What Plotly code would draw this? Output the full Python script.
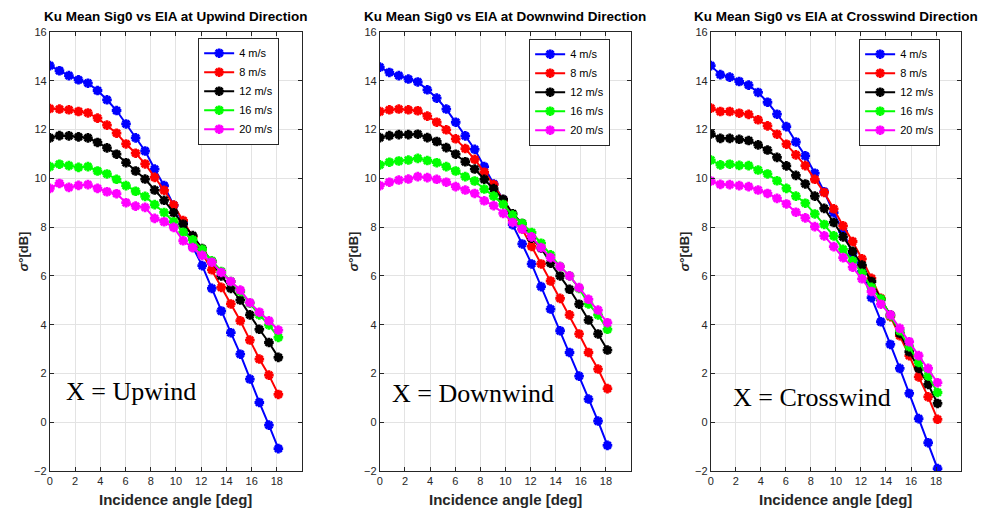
import plotly.graph_objects as go

# Incidence angles [deg]
angles = [0.0, 0.76, 1.51, 2.27, 3.02, 3.78, 4.53, 5.29, 6.04, 6.8, 7.55, 8.31,
          9.06, 9.82, 10.57, 11.33, 12.08, 12.84, 13.59, 14.35, 15.1, 15.86,
          16.61, 17.37, 18.12]

speeds = ["4 m/s", "8 m/s", "12 m/s", "16 m/s", "20 m/s"]
colors = ["#0000ff", "#ff0000", "#000000", "#00ff00", "#ff00ff"]

# Upwind
up_4 = [14.62, 14.41, 14.21, 14.04, 13.90, 13.60, 13.22, 12.78, 12.23, 11.66, 11.12, 10.38,
        9.70, 8.89, 8.15, 7.19, 6.42, 5.49, 4.56, 3.67, 2.79, 1.77, 0.81, -0.12, -1.08]
up_8 = [12.86, 12.84, 12.81, 12.74, 12.68, 12.47, 12.18, 11.85, 11.41, 11.03, 10.59, 10.04,
        9.51, 8.90, 8.27, 7.60, 6.93, 6.25, 5.53, 4.85, 4.16, 3.37, 2.59, 1.93, 1.14]
up_12 = [11.66, 11.75, 11.74, 11.70, 11.66, 11.47, 11.25, 10.99, 10.64, 10.30, 9.97, 9.52,
         9.10, 8.59, 8.12, 7.65, 7.12, 6.59, 6.00, 5.49, 5.01, 4.40, 3.81, 3.27, 2.66]
up_16 = [10.48, 10.58, 10.52, 10.45, 10.48, 10.30, 10.18, 9.96, 9.70, 9.47, 9.26, 8.92,
         8.60, 8.22, 7.79, 7.48, 7.09, 6.62, 6.18, 5.77, 5.36, 4.88, 4.40, 3.99, 3.48]
up_20 = [9.59, 9.79, 9.63, 9.71, 9.74, 9.59, 9.45, 9.37, 9.00, 8.86, 8.81, 8.36,
         8.22, 7.99, 7.44, 7.16, 6.84, 6.56, 6.14, 5.77, 5.42, 4.90, 4.51, 4.16, 3.78]

# Downwind
dn_4 = [14.56, 14.34, 14.21, 14.07, 13.95, 13.63, 13.29, 12.84, 12.30, 11.74, 11.19, 10.48,
        9.77, 9.12, 8.10, 7.31, 6.49, 5.56, 4.64, 3.75, 2.86, 1.89, 0.95, 0.05, -0.95]
dn_8 = [12.74, 12.81, 12.84, 12.81, 12.77, 12.55, 12.30, 11.99, 11.62, 11.22, 10.78, 10.25,
        9.74, 9.10, 8.30, 7.92, 7.21, 6.49, 5.79, 5.08, 4.40, 3.62, 2.86, 2.18, 1.38]
dn_12 = [11.67, 11.75, 11.79, 11.79, 11.81, 11.67, 11.51, 11.26, 10.99, 10.68, 10.38, 9.96,
         9.58, 9.14, 8.55, 8.15, 7.55, 7.14, 6.52, 6.00, 5.45, 4.84, 4.19, 3.62, 2.96]
dn_16 = [10.55, 10.66, 10.71, 10.75, 10.82, 10.73, 10.64, 10.48, 10.30, 10.07, 9.89, 9.56,
         9.27, 8.93, 8.49, 8.15, 7.78, 7.34, 6.86, 6.38, 6.00, 5.49, 4.85, 4.40, 3.81]
dn_20 = [9.70, 9.84, 9.93, 9.97, 10.07, 10.03, 9.96, 9.84, 9.66, 9.52, 9.38, 9.08,
         8.88, 8.56, 8.19, 7.92, 7.60, 7.16, 6.75, 6.38, 6.00, 5.52, 5.04, 4.60, 4.08]

# Crosswind
cr_4 = [14.62, 14.25, 14.15, 13.97, 13.82, 13.52, 13.12, 12.63, 12.12, 11.49, 10.92, 10.21,
        9.45, 8.59, 7.82, 6.93, 6.18, 5.11, 4.12, 3.19, 2.21, 1.18, 0.15, -0.84, -1.90]
cr_8 = [12.88, 12.74, 12.74, 12.67, 12.62, 12.40, 12.15, 11.81, 11.40, 10.96, 10.52, 9.96,
        9.42, 8.75, 8.05, 7.41, 6.70, 5.90, 5.08, 4.33, 3.55, 2.73, 1.86, 1.04, 0.12]
cr_12 = [11.82, 11.64, 11.64, 11.60, 11.55, 11.37, 11.16, 10.86, 10.51, 10.12, 9.77, 9.27,
         8.77, 8.19, 7.60, 7.01, 6.44, 5.77, 5.04, 4.40, 3.64, 2.89, 2.21, 1.55, 0.77]
cr_16 = [10.75, 10.55, 10.58, 10.53, 10.52, 10.34, 10.18, 9.90, 9.59, 9.27, 8.98, 8.54,
         8.11, 7.64, 7.09, 6.62, 6.11, 5.53, 5.05, 4.37, 3.75, 3.10, 2.45, 1.90, 1.22]
cr_20 = [9.89, 9.75, 9.74, 9.70, 9.66, 9.52, 9.38, 9.18, 8.95, 8.61, 8.38, 8.02,
         7.64, 7.20, 6.75, 6.36, 5.88, 5.36, 4.84, 4.40, 3.85, 3.30, 2.73, 2.21, 1.62]

panels = [
    ("Ku Mean Sig0 vs EIA at Upwind Direction", "X = Upwind", [up_4, up_8, up_12, up_16, up_20]),
    ("Ku Mean Sig0 vs EIA at Downwind Direction", "X = Downwind", [dn_4, dn_8, dn_12, dn_16, dn_20]),
    ("Ku Mean Sig0 vs EIA at Crosswind Direction", "X = Crosswind", [cr_4, cr_8, cr_12, cr_16, cr_20]),
]

x_ticks = [0, 2, 4, 6, 8, 10, 12, 14, 16, 18]
y_ticks = [-2, 0, 2, 4, 6, 8, 10, 12, 14, 16]

W, H = 982, 509


def ypaper(px):
    # compensate the observed vertical compression around the centre
    adj = 254.5 + (px - 254.5) / 0.975
    return 1 - adj / H


domains_px = [(47, 300), (378, 630), (710, 961)]
legend_px = [(277, 38), (609, 39), (940, 39)]
label_px = [(61, 391), (388, 393), (730, 397)]
y_top, y_bot = 32.3, 470.7
ydom = [ypaper(y_bot), ypaper(y_top)]

fig = go.Figure()
layout = dict(
    width=W, height=H,
    margin=dict(l=0, r=0, t=0, b=0),
    paper_bgcolor="white", plot_bgcolor="white",
    showlegend=True,
    annotations=[],
)

tickfont = dict(family="Liberation Sans, Arial", size=11, color="#262626")
for p, (title, label, series) in enumerate(panels):
    idx = "" if p == 0 else str(p + 1)
    leg = "legend" + idx
    for s, vals in enumerate(series):
        fig.add_trace(go.Scatter(
            x=angles, y=vals, mode="lines+markers", name=speeds[s],
            line=dict(color=colors[s], width=2),
            marker=dict(symbol="asterisk-open", size=8, color=colors[s],
                        line=dict(color=colors[s], width=2.8)),
            xaxis="x" + idx, yaxis="y" + idx, legend=leg,
        ))
    x0, x1 = domains_px[p]
    axcommon = dict(showline=True, linecolor="#262626", linewidth=1, mirror="ticks",
                    ticks="inside", ticklen=4, tickcolor="#262626",
                    showgrid=True, gridcolor="#e3e3e3", gridwidth=1, zeroline=False,
                    tickfont=tickfont)
    layout["xaxis" + idx] = dict(domain=[x0 / W, x1 / W], range=[0, 20], tickvals=x_ticks,
                                 anchor="y" + idx, **axcommon)
    layout["yaxis" + idx] = dict(domain=ydom, range=[-2, 16], tickvals=y_ticks,
                                 anchor="x" + idx, **axcommon)
    lx, ly = legend_px[p]
    layout[leg] = dict(x=lx / W, y=ypaper(ly), xanchor="right", yanchor="top",
                       xref="paper", yref="paper",
                       bgcolor="white", bordercolor="#262626", borderwidth=1,
                       font=dict(family="Liberation Sans, Arial", size=11, color="#000000"),
                       tracegroupgap=0, itemwidth=30)
    cx = (x0 + x1) / 2
    layout["annotations"].append(dict(
        text="<b>" + title + "</b>", x=cx / W, y=ypaper(17), xref="paper", yref="paper",
        showarrow=False, xanchor="center", yanchor="middle", borderpad=0,
        font=dict(family="Liberation Sans, Arial", size=13.5, color="#000000")))
    layout["annotations"].append(dict(
        text="<b>Incidence angle [deg]</b>", x=cx / W, y=ypaper(499), xref="paper", yref="paper",
        showarrow=False, xanchor="center", yanchor="middle",
        font=dict(family="Liberation Sans, Arial", size=15, color="#262626")))
    layout["annotations"].append(dict(
        text="<b><i>σ</i>°[dB]</b>", x=(x0 - 26) / W, y=(ydom[0] + ydom[1]) / 2,
        xref="paper", yref="paper", textangle=-90,
        showarrow=False, xanchor="center", yanchor="middle",
        font=dict(family="Liberation Sans, Arial", size=13, color="#262626")))
    tx, ty = label_px[p]
    layout["annotations"].append(dict(
        text=label, x=tx / W, y=ypaper(ty), xref="paper", yref="paper",
        showarrow=False, xanchor="left", yanchor="middle",
        font=dict(family="Liberation Serif, serif", size=26, color="#000000")))

fig.update_layout(**layout)
fig.write_html("out.html")
